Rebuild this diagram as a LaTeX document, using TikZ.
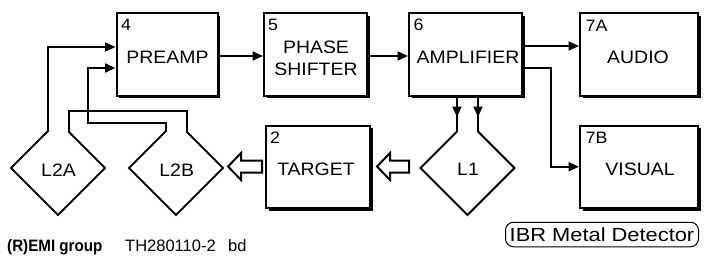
\documentclass[tikz,border=0pt]{standalone}
\usepackage{fontspec}
\setmainfont{Liberation Sans}
\newfontfamily\labfont[FakeStretch=1.08]{Liberation Sans}
\newfontfamily\ibrfont[FakeStretch=1.15]{Liberation Sans}
\newfontfamily\grpfont[FakeStretch=0.92]{Liberation Sans}
\usetikzlibrary{arrows.meta,shadows,calc}
\begin{document}
\begin{tikzpicture}[x=1pt,y=-1pt,
  blk/.style={draw, line width=2pt, fill=white, inner sep=0pt,
    drop shadow={shadow xshift=2.5pt, shadow yshift=-2.5pt, opacity=1, fill=black}},
  lbl/.style={font=\labfont\fontsize{18}{22}\selectfont, inner sep=0pt, anchor=base, align=center},
  num/.style={font=\labfont\fontsize{16.5}{18}\selectfont, inner sep=0pt, anchor=base west},
  wire/.style={line width=2pt},
  arr/.style={wire, -{Triangle[length=10.5pt,width=9pt]}},
  coil/.style={line width=2pt, line join=miter},
  hollow/.style={line width=2pt, fill=white, line join=miter},
  foot/.style={inner sep=0pt, anchor=base west, font=\fontsize{16.5}{20}\selectfont}]
\useasboundingbox[fill=white] (0,0) rectangle (706,258);

% blocks
\node[blk, minimum width=101pt, minimum height=82.5pt] (pre) at (167,54.25) {};
\node[blk, minimum width=103pt, minimum height=82.5pt] (phase) at (315.5,54.25) {};
\node[blk, minimum width=113pt, minimum height=82.5pt] (amp) at (465.5,54.25) {};
\node[blk, minimum width=118pt, minimum height=82.5pt] (audio) at (639,54.25) {};
\node[blk, minimum width=118pt, minimum height=82.5pt] (visual) at (639,166.75) {};
\node[blk, minimum width=104pt, minimum height=82.5pt] (target) at (318,166.75) {};

% block numbers
\node[num] (n4) at (121,30.5) {4};
\node[num] (n5) at (268,30.5) {5};
\node[num] (n6) at (413.5,30.5) {6};
\node[num] (n7a) at (585.5,31.5) {7A};
\node[num] (n7b) at (585.5,143.5) {7B};
\node[num] (n2) at (270,143.5) {2};

% block labels
\node[lbl] (preL) at (167.5,63.3) {PREAMP};
\node[lbl, anchor=center] (phaseL) at (316,58) {PHASE\\SHIFTER};
\node[lbl] (ampL) at (468,63) {AMPLIFIER};
\node[lbl] (audioL) at (638,63.3) {AUDIO};
\node[lbl] (visualL) at (640,175) {VISUAL};
\node[lbl] (targetL) at (316,175) {TARGET};

% coils
\coordinate (L2Aa) at (47.5,131.5);
\coordinate (L2Ab) at (68.5,131.5);
\coordinate (L2Ba) at (165.5,131.5);
\coordinate (L2Bb) at (186.5,131.5);
\coordinate (L1a) at (457,131.5);
\coordinate (L1b) at (478,131.5);
\draw[coil] (L2Aa) -- (11,168) -- (58,215) -- (105,168) -- (L2Ab);
\draw[coil] (L2Ba) -- (129,168) -- (176,215) -- (223,168) -- (L2Bb);
\draw[coil] (L1a) -- (420.5,168) -- (467.5,215) -- (514.5,168) -- (L1b);
\node[lbl] (l2aL) at (58.5,176) {L2A};
\node[lbl] (l2bL) at (176.7,176) {L2B};
\node[lbl] (l1L) at (468,175.5) {L1};

% signal chain
\draw[arr] ([yshift=-1.75pt]pre.east) -- ([yshift=-1.75pt]phase.west);
\draw[arr] ([yshift=-1.75pt]phase.east) -- ([yshift=-1.75pt]amp.west);
\draw[arr] ([yshift=8.25pt]amp.east) -- ([yshift=8.25pt]audio.west);
\coordinate (vx) at (551,166.75);
\draw[arr] ([yshift=-13.75pt]amp.east) -| (vx) -- (visual.west);

% coil wiring
\coordinate (c88) at (88,123);
\coordinate (c111) at (186.5,111);
\draw[arr] (L2Aa) |- ([yshift=7.25pt]pre.west);
\draw[arr] (L2Ba) |- (c88) |- ([yshift=-13.75pt]pre.west);
\draw[wire, line join=miter] (L2Ab) |- (c111) -- (L2Bb);

% amplifier to L1
\draw[wire] (L1a |- amp.south) -- (L1a);
\draw[arr] (L1a |- amp.south) -- ($(L1a)+(0,-14.5)$);
\draw[wire] (L1b |- amp.south) -- (L1b);
\draw[arr] (L1b |- amp.south) -- ($(L1b)+(0,-14.5)$);

% hollow field arrows
\draw[hollow] (409,160.5) -- (390,160.5) -- (390,153) -- (377,166.5) -- (390,180) -- (390,172.5) -- (409,172.5) -- cycle;
\draw[hollow] (262,160.5) -- (241,160.5) -- (241,153) -- (228,166.5) -- (241,180) -- (241,172.5) -- (262,172.5) -- cycle;

% footer
\node[foot, font=\grpfont\bfseries\fontsize{16.5}{20}\selectfont] (grp) at (7,251) {(R)EMI group};
\node[foot] (th) at (125,251) {TH280110-2};
\node[foot] (bd) at (228,251) {bd};
\node[draw, rounded corners=8pt, line width=1pt, minimum width=193pt, minimum height=24.5pt,
  inner sep=0pt, font=\ibrfont\fontsize{19}{22}\selectfont] (ibr) at (602,234.5) {IBR Metal Detector};
\end{tikzpicture}
\end{document}
